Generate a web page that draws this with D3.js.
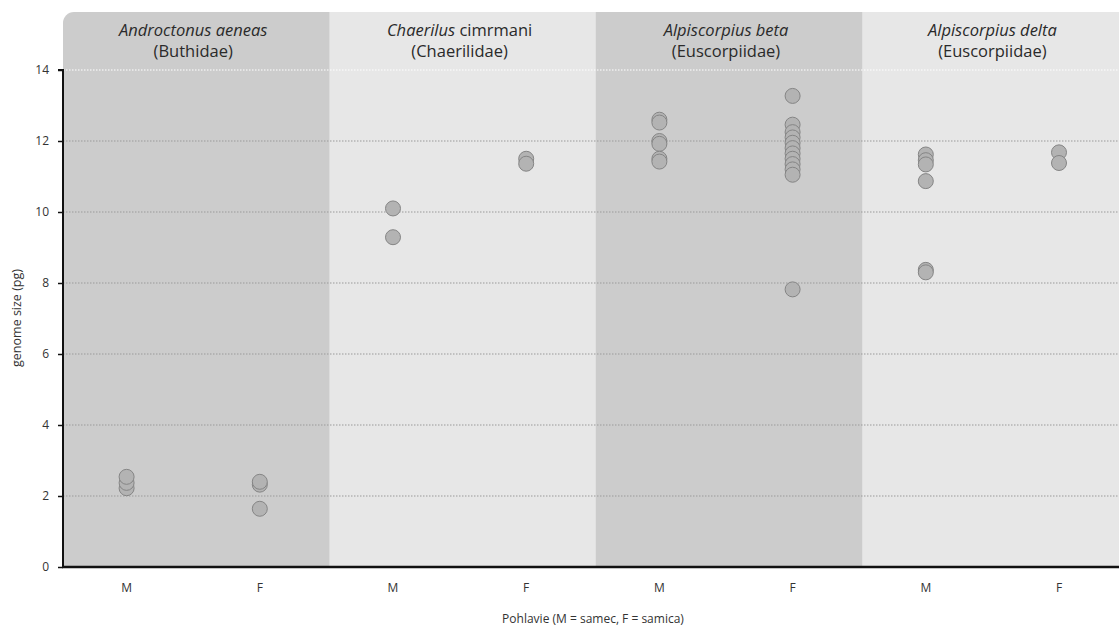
<!DOCTYPE html>
<html><head><meta charset="utf-8">
<script src="https://cdn.jsdelivr.net/npm/d3@7"></script>
<style>body{margin:0;background:#fff;}svg{display:block;font-family:"Open Sans",sans-serif;}</style>
</head><body><svg id="c" width="1119" height="628"></svg>
<script>
const speciesItalic = ["Androctonus aeneas", "Chaerilus", "Alpiscorpius beta", "Alpiscorpius delta"];
const speciesPlain = ["", " cimrmani", "", ""];
const families = ["(Buthidae)", "(Chaerilidae)", "(Euscorpiidae)", "(Euscorpiidae)"];
const sexes = ["M", "F"];
const yTicks = [0, 2, 4, 6, 8, 10, 12, 14];
const xTitle = "Pohlavie (M = samec, F = samica)";
const yTitle = "genome size (pg)";
const androctonusM = [2.22, 2.37, 2.54];
const androctonusF = [2.32, 2.4, 1.64];
const chaerilusM = [10.1, 9.29];
const chaerilusF = [11.5, 11.36];
const betaM = [12.6, 12.52, 12.0, 11.92, 11.5, 11.42];
const betaF = [13.27, 12.46, 12.25, 12.1, 11.95, 11.8, 11.65, 11.5, 11.35, 11.2, 11.05, 7.82];
const deltaM = [11.62, 11.46, 11.34, 10.87, 8.37, 8.3];
const deltaF = [11.68, 11.38];
const groups = [[androctonusM, androctonusF],[chaerilusM, chaerilusF],[betaM, betaF],[deltaM, deltaF]];

const FONT = "'Open Sans',sans-serif";
const svg = d3.select("#c");
const mLeft = 63, mTop = 70, mBottom = 567, headTop = 12;
const y = d3.scaleLinear().domain([0, 14]).range([mBottom, mTop]);
const xs = d3.scaleBand().domain(d3.range(4)).range([mLeft, mLeft + 266.4*4]).padding(0);
const bw = xs.bandwidth();
const xsex = d3.scalePoint().domain(sexes).range([-3, bw - 3]).padding(0.5);
const panelFill = ["#cccccc", "#e7e7e7", "#cccccc", "#e7e7e7"];

const clip = svg.append("defs").append("clipPath").attr("id","pc");
clip.append("rect").attr("x", mLeft).attr("y", headTop).attr("width", 1200).attr("height", mBottom - headTop + 20).attr("rx", 11);
const pg = svg.append("g").attr("clip-path","url(#pc)");
pg.selectAll("rect.p").data(d3.range(4)).join("rect")
  .attr("x", d => xs(d)).attr("y", headTop).attr("width", bw + 1).attr("height", mBottom - headTop)
  .attr("fill", (d,i) => panelFill[i]);

svg.append("g").selectAll("line").data(yTicks.filter(t => t > 0)).join("line")
  .attr("x1", mLeft).attr("x2", 1119).attr("y1", d => y(d)).attr("y2", d => y(d))
  .attr("stroke", d => d === 14 ? "#ffffff" : "#9a9a9a").attr("stroke-width", 1.2)
  .attr("stroke-dasharray", "1.5,1.5");

const hg = svg.append("g");
d3.range(4).forEach(i => {
  const cx = xs(i) + bw/2 - 3;
  const t = hg.append("text").attr("x", cx).attr("y", 36).attr("text-anchor","middle")
    .attr("font-size", 16.5).attr("fill", "#2a2a2a");
  t.append("tspan").attr("font-style","italic").text(speciesItalic[i]);
  if (speciesPlain[i]) t.append("tspan").text(speciesPlain[i]);
  hg.append("text").attr("x", cx).attr("y", 57).attr("text-anchor","middle")
    .attr("font-size", 16.5).attr("fill", "#2a2a2a").text(families[i]);
});

const pts = [];
groups.forEach((g, gi) => g.forEach((vals, si) => vals.forEach(v => pts.push({gi, s: sexes[si], v}))));
svg.append("g").selectAll("circle").data(pts).join("circle")
  .attr("cx", d => xs(d.gi) + xsex(d.s)).attr("cy", d => y(d.v)).attr("r", 7.5)
  .attr("fill", "#b3b3b3").attr("stroke", "#858585").attr("stroke-width", 1);

const ya = svg.append("g").attr("transform", `translate(${mLeft},0)`)
  .call(d3.axisLeft(y).tickValues(yTicks).tickSize(5).tickPadding(9));
ya.select(".domain").attr("stroke", "#111").attr("stroke-width", 2).attr("d", `M-5,${mTop}H0V${mBottom}`);
ya.selectAll(".tick line").attr("stroke", "#111").attr("stroke-width", 1.5);
ya.selectAll(".tick text").attr("font-size", 12).attr("fill", "#333").attr("font-family", FONT);

svg.append("line").attr("x1", mLeft - 1).attr("x2", 1119).attr("y1", mBottom).attr("y2", mBottom)
  .attr("stroke", "#111").attr("stroke-width", 2.5);

const xl = [];
d3.range(4).forEach(i => sexes.forEach(s => xl.push({i, s})));
svg.append("g").selectAll("text").data(xl).join("text")
  .attr("x", d => xs(d.i) + xsex(d.s)).attr("y", 592).attr("text-anchor","middle")
  .attr("font-size", 12).attr("fill", "#333").text(d => d.s);

svg.append("text").attr("x", 593).attr("y", 623).attr("text-anchor","middle")
  .attr("font-size", 12).attr("fill", "#333").text(xTitle);
svg.append("text").attr("transform", "translate(21,318) rotate(-90)").attr("text-anchor","middle")
  .attr("font-size", 12.5).attr("fill", "#333").text(yTitle);
</script></body></html>
